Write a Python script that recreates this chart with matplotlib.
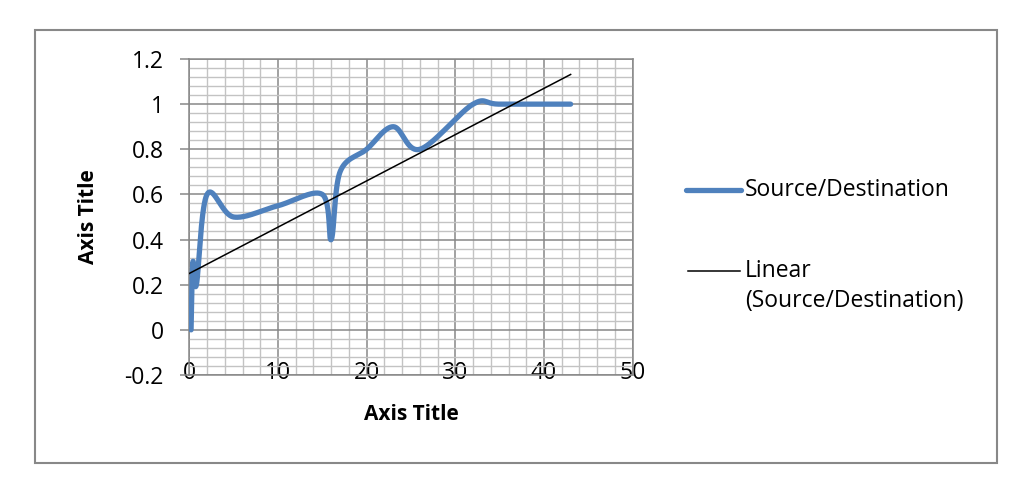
import numpy as np
import matplotlib
matplotlib.use('Agg')
import matplotlib.pyplot as plt
from matplotlib.lines import Line2D
from matplotlib.patches import Rectangle

# ---- data ----
x_values = [0.2, 0.4, 0.8, 2, 5, 10, 15, 16, 17, 20, 23, 26, 32, 35, 43]
y_values = [0.0, 0.3, 0.2, 0.6, 0.5, 0.55, 0.6, 0.4, 0.7, 0.8, 0.9, 0.8, 1.0, 1.0, 1.0]
trend_slope = 0.0205      # linear trendline
trend_intercept = 0.25
x_ticks = [0, 10, 20, 30, 40, 50]
x_tick_labels = ['0', '10', '20', '30', '40', '50']
y_ticks = [-0.2, 0.0, 0.2, 0.4, 0.6, 0.8, 1.0, 1.2]
y_tick_labels = ['-0.2', '0', '0.2', '0.4', '0.6', '0.8', '1', '1.2']
series_name = 'Source/Destination'
trend_name_lines = ['Linear', '(Source/Destination)']
x_title = 'Axis Title'
y_title = 'Axis Title'

plt.rcParams['font.family'] = ['Open Sans', 'DejaVu Sans']
FS = 16.5
FS_BOLD = 15

W, H = 1021, 493
fig = plt.figure(figsize=(W / 100, H / 100), dpi=100)


def fx(px):
    return px / W


def fy(py):
    return 1 - py / H


def excel_smooth(xs, ys, n=40):
    P = np.column_stack([xs, ys]).astype(float)
    out = []
    for i in range(len(P) - 1):
        p0 = P[i - 1] if i > 0 else P[i]
        p1, p2 = P[i], P[i + 1]
        p3 = P[i + 2] if i + 2 < len(P) else P[i + 1]
        c1 = p1 + (p2 - p0) / 6
        c2 = p2 - (p3 - p1) / 6
        t = np.linspace(0, 1, n)[:, None]
        seg = (1 - t) ** 3 * p1 + 3 * (1 - t) ** 2 * t * c1 + 3 * (1 - t) * t ** 2 * c2 + t ** 3 * p2
        out.append(seg if i == 0 else seg[1:])
    return np.vstack(out)


# outer chart border
fig.add_artist(Rectangle((fx(35), fy(463)), fx(997) - fx(35), fy(30) - fy(463),
                         transform=fig.transFigure, fill=False,
                         edgecolor='#888888', linewidth=1.5))

ax = fig.add_axes([fx(189.3), fy(375), fx(632.7) - fx(189.3), fy(59) - fy(375)])
ax.set_xlim(0, 50)
ax.set_ylim(-0.2, 1.2)

major_c = '#878787'
minor_c = '#c3c3c3'
ax.set_xticks(x_ticks)
ax.set_xticklabels(x_tick_labels)
ax.set_yticks(y_ticks)
ax.set_yticklabels(y_tick_labels)
ax.set_xticks(np.arange(0, 50.01, 2), minor=True)
ax.set_yticks(np.arange(-0.2, 1.2001, 0.04), minor=True)
ax.grid(which='minor', color=minor_c, linewidth=1.0)
ax.grid(which='major', color=major_c, linewidth=1.1)
ax.set_axisbelow(True)
for s in ax.spines.values():
    s.set_color(major_c)
    s.set_linewidth(1.1)

ax.tick_params(axis='y', which='major', length=6.5, width=1.1, color=major_c,
               pad=12, labelsize=FS, labelcolor='black')
ax.tick_params(axis='y', which='minor', length=0)
ax.tick_params(axis='x', which='both', length=0, pad=-1.5, labelsize=FS, labelcolor='black')
for lab in ax.get_xticklabels():
    lab.set_verticalalignment('center')

# series (smoothed line through the points)
curve = excel_smooth(x_values, y_values)
ax.plot(curve[:, 0], curve[:, 1], color='#4f81bd', linewidth=3.8,
        solid_capstyle='round', solid_joinstyle='round', zorder=3)

# linear trendline
tx = np.array([0, max(x_values)])
ax.plot(tx, np.polyval([trend_slope, trend_intercept], tx), color='black',
        linewidth=1.1, zorder=4)

# axis titles
fig.text(fx(411), fy(415), x_title, ha='center', va='center', fontsize=FS_BOLD, fontweight='bold')
fig.text(fx(88), fy(217), y_title, ha='center', va='center', rotation=90,
         fontsize=FS_BOLD, fontweight='bold')

# legend
fig.add_artist(Line2D([fx(686), fx(741)], [fy(190), fy(190)], transform=fig.transFigure,
                      color='#4f81bd', linewidth=3.8, solid_capstyle='round'))
fig.text(fx(745), fy(190), series_name, ha='left', va='center', fontsize=FS)
fig.add_artist(Line2D([fx(688), fx(740)], [fy(271), fy(271)], transform=fig.transFigure,
                      color='black', linewidth=1.1))
fig.text(fx(745), fy(271), trend_name_lines[0], ha='left', va='center', fontsize=FS)
fig.text(fx(745), fy(301), trend_name_lines[1], ha='left', va='center', fontsize=FS)

fig.savefig('out.png', dpi=100)
